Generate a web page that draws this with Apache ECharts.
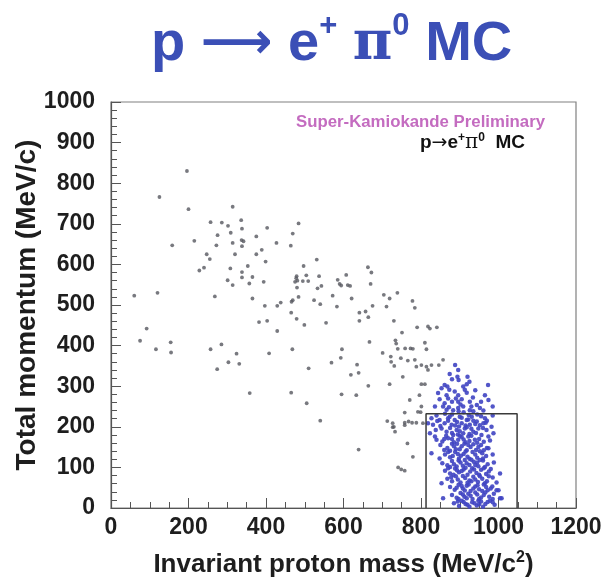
<!DOCTYPE html>
<html><head><meta charset="utf-8">
<script src="https://cdn.jsdelivr.net/npm/echarts@6/dist/echarts.min.js"></script>
<style>html,body{margin:0;padding:0;background:#fff}#c{width:612px;height:580px}</style>
</head><body><div id="c"></div>
<script>
// Axis ranges / ticks
const xRange = [0, 1200];
const xStep = 200;
const yRange = [0, 1000];
const yStep = 100;

// Signal box (MeV): mass window and momentum cut
const boxMass = [813, 1048];
const boxMom = 232;

// Scattered MC events (gray)
const eventsGray = [
[196,830],[125,766],[200,736],[314,742],[257,704],[286,703],[302,695],[336,709],[338,688],[403,690],[484,701],[469,676],[275,672],[309,678],[215,658],[158,647],[272,647],[314,653],[337,660],[342,657],[338,645],[375,669],[427,653],[464,646],[247,625],[255,613],[320,625],[375,625],[389,636],[399,607],[240,592],[228,585],[308,590],[353,596],[338,581],[338,568],[365,569],[301,561],[314,549],[357,553],[394,557],[268,521],[365,516],[397,498],[429,498],[438,506],[382,458],[403,461],[429,436],[497,596],[531,612],[479,571],[478,566],[481,560],[475,557],[504,573],[495,559],[509,559],[537,571],[533,541],[543,547],[480,543],[484,520],[469,512],[466,508],[465,481],[479,466],[499,451],[524,512],[540,502],[555,456],[572,523],[583,496],[585,562],[590,552],[594,548],[607,574],[611,549],[617,547],[621,516],[641,481],[641,461],[60,523],[120,530],[92,442],[75,412],[154,408],[285,403],
[116,391],[155,383],[257,391],[274,342],[303,359],[324,380],[331,355],[358,283],[408,381],[468,391],[465,284],[505,258],[510,344],[540,215],[569,358],[593,370],[596,391],[595,280],[619,328],[635,353],[639,333],[633,278],[639,144],
[663,593],[672,580],[670,552],[704,525],[719,516],[739,530],[675,498],[711,496],[778,510],[784,493],[657,484],[664,470],[730,461],[790,445],[818,447],[823,442],[841,445],[751,432],[667,409],[734,413],[736,405],[740,392],[759,393],[773,393],[779,392],[810,407],[814,391],[701,382],[722,373],[723,360],[731,350],[748,369],[766,363],[784,365],[788,348],[801,352],[814,348],[818,340],[827,352],[846,352],[857,365],[753,323],[664,301],[719,305],[801,305],[810,305],[771,266],[796,278],[758,235],[792,237],[713,214],[727,209],[758,210],[768,213],[788,210],[805,209],[727,199],
[799,236],[730,200],[733,188],[758,204],[777,210],[765,159],[779,126],[741,100],[749,95],[758,92],[801,250]
];

// Events in the dense signal region (blue)
const eventsBlue = [
[888,352],[896,340],[874,330],[894,323],[880,317],[897,315],[920,323],[925,311],[909,299],[853,295],[868,299],[873,291],[844,283],[866,278],[887,287],[896,278],[913,291],[918,284],[870,270],[880,262],[861,258],[896,262],[926,262],[974,266],[965,278],[973,303],[836,250],[857,250],[909,250],[944,254],[952,246],[926,241],[896,246],[883,241],[866,242],[918,305],[934,272],[905,268],[848,268],[940,290],[955,262],[890,270],[902,255],[872,248],[930,250],[961,240],[985,250],[861,303],
[827,221],[848,217],[874,225],[887,217],[900,225],[918,217],[931,225],[965,221],[862,232],[910,236],[945,230],[880,230],[935,238],[955,226],[897,238],[923,229],[870,221],[905,222],[985,228],[840,228],
[831,205],[861,209],[879,205],[905,209],[926,205],[944,213],[961,209],[818,209],[982,200],[850,202],[893,212],[915,203],[935,215],[952,204],[870,215],[898,201],[940,207],[922,218],[888,203],[970,215],[842,214],[967,210],
[823,184],[853,196],[866,188],[883,180],[892,192],[909,184],[913,196],[935,188],[948,196],[956,180],[969,192],[987,184],[838,192],[875,197],[900,189],[925,182],[942,185],[918,199],[960,197],[880,185],[930,195],[895,181],
[836,176],[870,172],[896,168],[922,176],[939,168],[974,176],[840,168],[855,164],[880,170],[905,175],[915,162],[930,178],[950,170],[962,163],[885,162],[900,178],[945,161],[865,178],[978,166],[910,169],[925,165],[860,170],
[850,155],[868,148],[885,152],[900,145],[912,158],[928,150],[942,143],[955,155],[970,148],[875,141],[893,158],[918,142],[935,157],[962,142],[880,158],[905,152],[948,150],[974,147],[860,143],[922,155],[890,145],
[827,135],[848,122],[862,132],[875,125],[888,138],[898,122],[910,133],[920,126],[933,138],[945,124],[958,135],[968,128],[985,132],[870,138],[903,129],[925,121],[940,132],[952,140],[882,128],[915,139],[895,133],[960,122],
[855,110],[868,105],[880,116],[892,102],[902,112],[913,118],[925,106],[936,114],[948,103],[960,117],[972,108],[988,112],[885,108],[908,104],[918,110],[930,119],[945,112],[965,101],[875,101],[897,117],[940,106],[952,118],
[862,92],[875,85],[888,97],[898,88],[910,95],[920,82],[932,98],[943,86],[955,94],[968,84],[980,96],[1004,85],[884,82],[905,91],[915,99],[927,90],[950,82],[962,98],[975,90],[893,93],[937,95],[870,98],
[853,61],[868,72],[880,66],[890,78],[902,63],[914,74],[925,68],[935,77],[947,64],[958,72],[970,66],[985,75],[995,63],[895,70],[908,79],[920,62],[940,70],[952,78],[965,61],[878,76],[930,66],[975,78],
[875,52],[887,45],[897,57],[908,48],[918,55],[928,42],[940,53],[950,46],[962,58],[972,44],[984,53],[995,44],[1000,44],[892,50],[913,43],[923,58],[935,48],[946,56],[958,42],[980,48],[905,54],[968,52],
[857,24],[880,32],[892,25],[902,37],[912,28],[922,35],[933,22],[945,33],[955,26],[966,38],[976,28],[988,35],[1008,24],[1004,24],[897,22],[918,24],[928,30],[940,38],[950,22],[962,32],[985,22],[908,33],
[885,12],[898,5],[910,15],[920,8],[932,14],[944,6],[955,16],[966,10],[978,18],[990,8],[905,18],[925,3],[938,12],[950,9],[960,3],[972,15],[915,10],[985,14],[895,16],[948,18]
];

const boxLine = [[boxMass[0],0],[boxMass[0],boxMom],[boxMass[1],boxMom],[boxMass[1],0]];

const FONT = '"Liberation Sans", Arial, sans-serif';
const BLUE_T = '#3b4fb6';
const chart = echarts.init(document.getElementById('c'), null, {renderer:'canvas'});

const labelStyle = {color:'#1e1e1e', fontSize:23, fontWeight:'bold', fontFamily:FONT, formatter: v => String(v)};
const nameRich = {
  a:{fontSize:26, fontWeight:'bold', fontFamily:FONT, color:'#1e1e1e', lineHeight:30},
  s:{fontSize:16, fontWeight:'bold', fontFamily:FONT, color:'#1e1e1e', verticalAlign:'top', lineHeight:18}
};

chart.setOption({
  animation:false,
  backgroundColor:'#fff',
  title:{
    text:'{a|p }{r|⟶}{a| e}{s|+}{a| }{g|π}{s|0}{a| MC}',
    left:146, top:6,
    textStyle:{
      rich:{
        a:{fontSize:56, fontWeight:'bold', fontFamily:FONT, color:BLUE_T, lineHeight:68},
        r:{fontSize:50, fontFamily:'"DejaVu Sans"', color:BLUE_T, lineHeight:68},
        g:{fontSize:54, fontFamily:'"DejaVu Serif", serif', color:BLUE_T, lineHeight:68},
        s:{fontSize:31, fontWeight:'bold', fontFamily:FONT, color:BLUE_T, verticalAlign:'top', lineHeight:42}
      }
    }
  },
  grid:{left:111, right:36, top:102, bottom:72, show:true, borderColor:'#808080', borderWidth:1.2,
        backgroundColor:'transparent', outerBoundsMode:'none', containLabel:false},
  xAxis:{
    type:'value', min:xRange[0], max:xRange[1], interval:xStep,
    axisLine:{show:true, onZero:false, lineStyle:{color:'#555', width:1.2}},
    axisTick:{show:true, inside:true, length:10, lineStyle:{color:'#555', width:1}},
    minorTick:{show:true, splitNumber:4, length:6, lineStyle:{color:'#555', width:1}},
    splitLine:{show:false},
    axisLabel:Object.assign({margin:8}, labelStyle),
    name:'{a|Invariant proton mass (MeV/c}{s|2}{a|)}',
    nameLocation:'middle', nameGap:42, nameMoveOverlap:false,
    nameTextStyle:{rich:nameRich}
  },
  yAxis:{
    type:'value', min:yRange[0], max:yRange[1], interval:yStep,
    axisLine:{show:true, onZero:false, lineStyle:{color:'#555', width:1.2}},
    axisTick:{show:true, inside:true, length:10, lineStyle:{color:'#555', width:1}},
    minorTick:{show:true, splitNumber:5, length:6, lineStyle:{color:'#555', width:1}},
    splitLine:{show:false},
    axisLabel:Object.assign({margin:16}, labelStyle),
    name:'Total momentum (MeV/c)',
    nameLocation:'middle', nameGap:70, nameMoveOverlap:false,
    nameTextStyle:{fontSize:28, fontWeight:'bold', fontFamily:FONT, color:'#1e1e1e'}
  },
  graphic:[
    {type:'text', left:296, top:114, z:10,
     style:{text:'Super-Kamiokande Preliminary', fill:'#c46cc0', font:'bold 16.8px "Liberation Sans", Arial, sans-serif'}},
    {type:'text', left:420, top:132, z:10,
     style:{text:'{a|p}{r|→}{a|e}{s|+}{g|π}{s|0}{a|  MC}',
       rich:{
         a:{fontSize:19, fontWeight:'bold', fontFamily:FONT, fill:'#111', lineHeight:22},
         r:{fontSize:19, fontFamily:'"DejaVu Sans"', fill:'#111', lineHeight:22},
         g:{fontSize:20, fontFamily:'"DejaVu Serif", serif', fill:'#111', lineHeight:22},
         s:{fontSize:12, fontWeight:'bold', fontFamily:FONT, fill:'#111', verticalAlign:'top', lineHeight:12}
       }}}
  ],
  series:[
    {type:'scatter', data:eventsGray, symbol:'circle', symbolSize:3.8,
     itemStyle:{color:'#56575f'}, z:3},
    {type:'scatter', data:eventsBlue, symbol:'circle', symbolSize:4.5,
     itemStyle:{color:'#3f44c2', opacity:0.9}, z:4},
    {type:'line', data:boxLine, symbol:'none', z:5,
     lineStyle:{color:'#3a3a3a', width:1.5}}
  ]
});
</script>
</body></html>
